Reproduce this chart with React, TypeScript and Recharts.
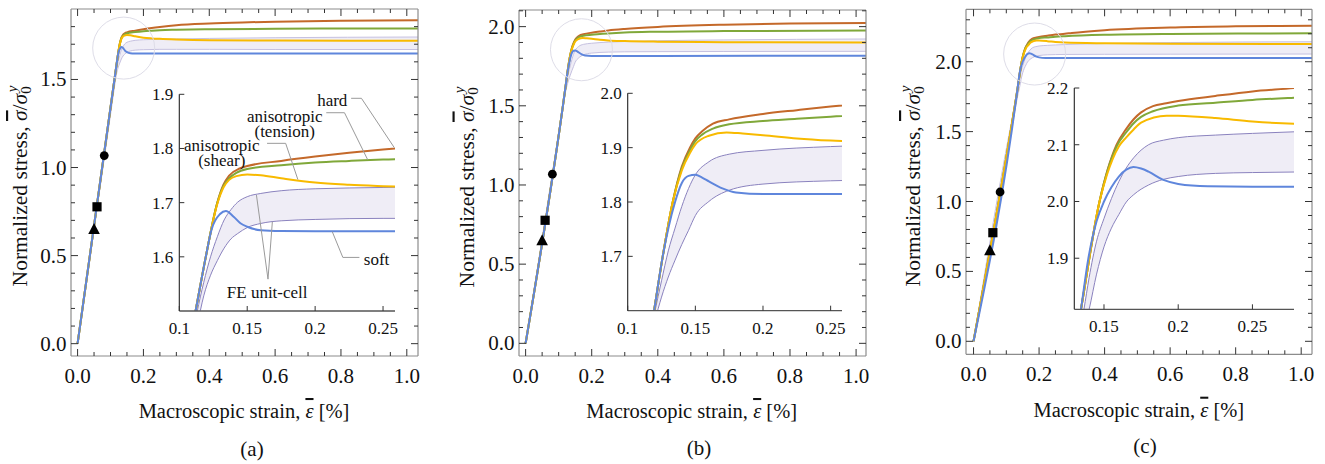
import React from "react";
import { Area, ComposedChart, Line, ReferenceDot, ReferenceLine, Scatter, XAxis, YAxis } from "recharts";

const SERIF = '"Liberation Serif", "Times New Roman", serif';
const COL = {
  hard: "#c4692a",
  green: "#80a83a",
  yellow: "#f8ba00",
  blue: "#5f86dc",
  edge: "#8a82be",
  edgeMain: "#c6c1e0",
  fill: "#efedf6",
  knee: "#dedde8",
  frame: "#8c8c8c",
  tick: "#333333",
  leader: "#9a9a9a",
};

type Pt = [number, number];

// ---- panel (a)
const hardA: Pt[] = [[0, 0], [0.112, 1.5], [0.1195, 1.6], [0.128, 1.7], [0.1325, 1.733], [0.1367, 1.75], [0.1445, 1.763], [0.15, 1.7675], [0.175, 1.777], [0.2, 1.785], [0.225, 1.792], [0.25, 1.798], [0.3, 1.808], [0.4, 1.818], [0.5, 1.824], [0.6, 1.828], [0.8, 1.833], [1.04, 1.836]];
const greenA: Pt[] = [[0, 0], [0.112, 1.5], [0.1195, 1.6], [0.128, 1.7], [0.1325, 1.731], [0.1367, 1.745], [0.142, 1.755], [0.15, 1.762], [0.175, 1.769], [0.2, 1.774], [0.225, 1.777], [0.25, 1.7795], [0.3, 1.782], [0.4, 1.785], [0.6, 1.788], [0.8, 1.789], [1.04, 1.79]];
const yellowA: Pt[] = [[0, 0], [0.112, 1.5], [0.1195, 1.6], [0.128, 1.698], [0.1325, 1.728], [0.1367, 1.742], [0.142, 1.749], [0.15, 1.752], [0.16, 1.7505], [0.175, 1.745], [0.2, 1.737], [0.225, 1.733], [0.25, 1.7305], [0.3, 1.727], [0.4, 1.723], [0.6, 1.721], [1.04, 1.72]];
const blueA: Pt[] = [[0, 0], [0.112, 1.5], [0.1195, 1.6], [0.1237, 1.65], [0.13, 1.679], [0.1343, 1.6845], [0.14, 1.674], [0.145, 1.662], [0.15, 1.6555], [0.16, 1.649], [0.175, 1.6475], [0.2, 1.647], [0.4, 1.647], [1.04, 1.647]];
const bandXA = [0, 0.105, 0.113, 0.118, 0.123, 0.128, 0.133, 0.138, 0.143, 0.15, 0.16, 0.175, 0.2, 0.25, 0.3, 0.4, 0.6, 1.04];
const bandHiA = [0, 1.39, 1.497, 1.553, 1.6, 1.637, 1.668, 1.687, 1.701, 1.711, 1.717, 1.722, 1.7256, 1.728, 1.73, 1.733, 1.737, 1.741];
const bandLoA = [0, 1.365, 1.47, 1.528, 1.566, 1.593, 1.616, 1.633, 1.643, 1.654, 1.6616, 1.6665, 1.669, 1.671, 1.671, 1.671, 1.67, 1.67];
const kneeA: Pt = [0.14, 1.678];

// ---- panel (b)
const hardB: Pt[] = [[0, 0], [0.1195, 1.6], [0.1259, 1.7], [0.1333, 1.8], [0.14, 1.865], [0.146, 1.9], [0.15, 1.917], [0.155, 1.93], [0.163, 1.944], [0.175, 1.952], [0.2, 1.962], [0.225, 1.969], [0.25, 1.9755], [0.3, 1.985], [0.4, 1.998], [0.6, 2.012], [0.8, 2.019], [1.04, 2.023]];
const greenB: Pt[] = [[0, 0], [0.1195, 1.6], [0.1259, 1.7], [0.1333, 1.8], [0.14, 1.862], [0.146, 1.895], [0.15, 1.912], [0.155, 1.924], [0.163, 1.935], [0.175, 1.943], [0.2, 1.949], [0.225, 1.953], [0.25, 1.957], [0.3, 1.963], [0.4, 1.968], [0.6, 1.972], [1.04, 1.975]];
const yellowB: Pt[] = [[0, 0], [0.1195, 1.6], [0.1259, 1.7], [0.1333, 1.8], [0.14, 1.858], [0.146, 1.89], [0.15, 1.906], [0.16, 1.922], [0.1731, 1.928], [0.185, 1.926], [0.2, 1.923], [0.225, 1.917], [0.25, 1.913], [0.3, 1.909], [0.4, 1.905], [0.6, 1.902], [1.04, 1.9]];
const blueB: Pt[] = [[0, 0], [0.1195, 1.6], [0.1259, 1.7], [0.135, 1.8], [0.14, 1.835], [0.145, 1.848], [0.15, 1.85], [0.155, 1.845], [0.16, 1.838], [0.17, 1.825], [0.18, 1.8175], [0.2, 1.8145], [0.4, 1.815], [1.04, 1.816]];
const bandXB = [0, 0.1, 0.12, 0.125, 0.13, 0.135, 0.14, 0.145, 0.15, 0.16, 0.175, 0.2, 0.25, 0.3, 0.4, 0.6, 1.04];
const bandHiB = [0, 1.33, 1.597, 1.655, 1.71, 1.752, 1.792, 1.825, 1.85, 1.874, 1.888, 1.895, 1.902, 1.906, 1.911, 1.916, 1.922];
const bandLoB = [0, 1.31, 1.58, 1.625, 1.662, 1.693, 1.722, 1.748, 1.775, 1.801, 1.8216, 1.833, 1.839, 1.841, 1.842, 1.843, 1.844];
const kneeB: Pt = [0.169, 1.854];

// ---- panel (c)
const hardC: Pt[] = [[0, 0], [0.1345, 1.81], [0.147, 2.0], [0.1585, 2.1], [0.165, 2.128], [0.17, 2.145], [0.175, 2.157], [0.183, 2.168], [0.192, 2.173], [0.2, 2.177], [0.225, 2.186], [0.25, 2.194], [0.2788, 2.2], [0.3, 2.206], [0.4, 2.226], [0.6, 2.245], [0.8, 2.253], [1.04, 2.257]];
const greenC: Pt[] = [[0, 0], [0.1345, 1.81], [0.147, 2.0], [0.1585, 2.097], [0.165, 2.122], [0.17, 2.138], [0.175, 2.149], [0.183, 2.159], [0.2, 2.169], [0.225, 2.174], [0.25, 2.179], [0.2788, 2.183], [0.4, 2.193], [0.6, 2.199], [1.04, 2.203]];
const yellowC: Pt[] = [[0, 0], [0.1345, 1.81], [0.147, 2.0], [0.152, 2.047], [0.16, 2.097], [0.165, 2.113], [0.17, 2.127], [0.175, 2.139], [0.1922, 2.1513], [0.2, 2.151], [0.225, 2.147], [0.25, 2.141], [0.2788, 2.137], [0.4, 2.132], [0.6, 2.129], [1.04, 2.127]];
const blueC: Pt[] = [[0, 0], [0.1345, 1.81], [0.1395, 1.9], [0.145, 1.965], [0.15, 2.0], [0.155, 2.025], [0.16, 2.044], [0.165, 2.056], [0.1698, 2.0607], [0.175, 2.058], [0.18, 2.0526], [0.19, 2.038], [0.2, 2.031], [0.22, 2.0268], [0.25, 2.026], [1.04, 2.026]];
const bandXC = [0, 0.12, 0.1365, 0.14, 0.145, 0.15, 0.155, 0.16, 0.165, 0.17, 0.18, 0.19, 0.2, 0.225, 0.25, 0.28, 0.4, 0.6, 1.04];
const bandHiC = [0, 1.62, 1.81, 1.866, 1.93, 1.97, 2.005, 2.035, 2.059, 2.077, 2.1, 2.108, 2.1125, 2.117, 2.12, 2.123, 2.13, 2.137, 2.143];
const bandLoC = [0, 1.56, 1.775, 1.81, 1.872, 1.92, 1.953, 1.977, 1.999, 2.012, 2.029, 2.039, 2.044, 2.0495, 2.051, 2.052, 2.053, 2.054, 2.055];
const kneeC: Pt = [0.1865, 2.055];

// markers on the elastic branch (same in all panels)
const circleMk: Pt[] = [[0.081, 1.068]];
const squareMk: Pt[] = [[0.059, 0.777]];
const triangleMk: Pt[] = [[0.05, 0.648]];

// ticks
const mainXTicks = [0, 0.05, 0.1, 0.15, 0.2, 0.25, 0.3, 0.35, 0.4, 0.45, 0.5, 0.55, 0.6, 0.65, 0.7, 0.75, 0.8, 0.85, 0.9, 0.95, 1.0];
const yTicksA = [0, 0.1, 0.2, 0.3, 0.4, 0.5, 0.6, 0.7, 0.8, 0.9, 1.0, 1.1, 1.2, 1.3, 1.4, 1.5, 1.6, 1.7, 1.8];
const yTicksB = [0, 0.1, 0.2, 0.3, 0.4, 0.5, 0.6, 0.7, 0.8, 0.9, 1.0, 1.1, 1.2, 1.3, 1.4, 1.5, 1.6, 1.7, 1.8, 1.9, 2.0, 2.1];
const yTicksC = [0, 0.1, 0.2, 0.3, 0.4, 0.5, 0.6, 0.7, 0.8, 0.9, 1.0, 1.1, 1.2, 1.3, 1.4, 1.5, 1.6, 1.7, 1.8, 1.9, 2.0, 2.1, 2.2, 2.3];
const insetXTicksAB = [0.1, 0.15, 0.2, 0.25];
const insetXTicksC = [0.15, 0.2, 0.25];
const insetYTicksA = [1.6, 1.7, 1.8, 1.9];
const insetYTicksB = [1.7, 1.8, 1.9, 2.0];
const insetYTicksC = [1.9, 2.0, 2.1, 2.2];

// annotations of inset (a)
const annoTextA = [
  { x: 0.2126, y: 1.8895, lines: ["hard"] },
  { x: 0.1776, y: 1.847, lines: ["anisotropic", "(tension)"] },
  { x: 0.1313, y: 1.7934, lines: ["anisotropic", "(shear)"] },
  { x: 0.2452, y: 1.5952, lines: ["soft"] },
  { x: 0.1647, y: 1.5348, lines: ["FE unit-cell"] },
];
const leadersA: Pt[][] = [
  [[0.2265, 1.8926], [0.2341, 1.8926], [0.2583, 1.8015]],
  [[0.2082, 1.866], [0.2216, 1.866], [0.2387, 1.7792]],
  [[0.1646, 1.8095], [0.1783, 1.8095], [0.1873, 1.7426]],
  [[0.2326, 1.5989], [0.2204, 1.5989], [0.2126, 1.6465]],
  [[0.1568, 1.714], [0.1653, 1.5588], [0.1685, 1.6646]],
];

const toXY = (a: Pt[]) => a.map(([x, y]) => ({ x, y }));
const bandRows = (xs: number[], lo: number[], hi: number[]) => xs.map((x, i) => ({ x, lo: lo[i], hi: hi[i] }));

function FrameTick(props: any) {
  const { x, y, payload, side, step, len = 7, minor = 4, show = false, fmt, fs = 20, gap = 5, base = 26 } = props;
  const v = payload.value;
  const r = v / step;
  const major = Math.abs(r - Math.round(r)) < 1e-6;
  const L = major ? len : minor;
  const d: Record<string, number[]> = { bottom: [0, -L], top: [0, L], left: [L, 0], right: [-L, 0] };
  const [dx, dy] = d[side];
  return (
    <g>
      <line x1={x} y1={y} x2={x + dx} y2={y + dy} stroke={COL.tick} strokeWidth={1} />
      {show && major && side === "bottom" && (
        <text x={x} y={y + base} textAnchor="middle" fontSize={fs} fontFamily={SERIF} fill="#111">
          {fmt(v)}
        </text>
      )}
      {show && major && side === "left" && (
        <text x={x - gap} y={y + base} textAnchor="end" fontSize={fs} fontFamily={SERIF} fill="#111">
          {fmt(v)}
        </text>
      )}
    </g>
  );
}

const f1 = (v: number) => v.toFixed(1);
const fs = (v: number) => String(v);

function Marker(props: any) {
  const { cx, cy, kind } = props;
  if (kind === "circle") return <circle cx={cx} cy={cy} r={4.4} fill="#000" />;
  if (kind === "square") return <rect x={cx - 4.6} y={cy - 4.6} width={9.2} height={9.2} fill="#000" />;
  return <polygon points={`${cx},${cy - 6.5} ${cx - 5.8},${cy + 4.5} ${cx + 5.8},${cy + 4.5}`} fill="#000" />;
}

function NoteText({ cx, cy, lines }: any) {
  const lh = 15;
  const first = cy + 6 - ((lines.length - 1) * lh) / 2;
  return (
    <text x={cx} y={first} textAnchor="middle" fontSize={17} fontFamily={SERIF} fill="#111">
      {lines.map((t: string, i: number) => (
        <tspan key={i} x={cx} dy={i === 0 ? 0 : lh}>
          {t}
        </tspan>
      ))}
    </text>
  );
}

function curves(p: any, inset: boolean) {
  const edge = inset ? COL.edge : COL.edgeMain;
  const common = { type: "monotone" as const, dot: false, activeDot: false, isAnimationActive: false };
  return [
    <Area key="band" data={p.band} dataKey={(d: any) => [d.lo, d.hi]} type="monotone" stroke="none" fill={COL.fill} fillOpacity={1} isAnimationActive={false} activeDot={false} />,
    <Line key="hi" data={p.band} dataKey="hi" stroke={edge} strokeWidth={1} {...common} />,
    <Line key="lo" data={p.band} dataKey="lo" stroke={edge} strokeWidth={1} {...common} />,
    <Line key="hard" data={toXY(p.hard)} dataKey="y" stroke={COL.hard} strokeWidth={2} {...common} />,
    <Line key="green" data={toXY(p.green)} dataKey="y" stroke={COL.green} strokeWidth={2} {...common} />,
    <Line key="yellow" data={toXY(p.yellow)} dataKey="y" stroke={COL.yellow} strokeWidth={2} {...common} />,
    <Line key="blue" data={toXY(p.blue)} dataKey="y" stroke={COL.blue} strokeWidth={2} {...common} />,
  ];
}

// axes get a 1px box (a zero-size axis is not drawn), margins are reduced by 1 to compensate
function MainChart({ p }: { p: any }) {
  const m = { top: p.margin.top - 1, right: p.margin.right - 1, bottom: p.margin.bottom - 1, left: p.margin.left - 1 };
  const frame = { stroke: COL.frame, strokeWidth: 1.2 };
  return (
    <div style={{ position: "absolute", left: p.left, top: 0 }}>
      <ComposedChart width={p.width} height={464} margin={m}>
        <XAxis xAxisId={0} dataKey="x" type="number" domain={p.xDomain} allowDataOverflow ticks={mainXTicks} interval={0} height={1} tickSize={0} tickMargin={0} axisLine={frame} tickLine={false} tick={<FrameTick side="bottom" step={0.2} show fmt={f1} fs={21} base={27} />} />
        <XAxis xAxisId="top" dataKey="x" type="number" orientation="top" domain={p.xDomain} allowDataOverflow ticks={mainXTicks} interval={0} height={1} tickSize={0} tickMargin={0} axisLine={frame} tickLine={false} tick={<FrameTick side="top" step={0.2} />} />
        <YAxis yAxisId={0} type="number" domain={p.yDomain} allowDataOverflow ticks={p.yTicks} interval={0} width={1} tickSize={0} tickMargin={0} axisLine={frame} tickLine={false} tick={<FrameTick side="left" step={0.5} show fmt={f1} fs={21} gap={4.5} base={7} />} />
        <YAxis yAxisId="right" orientation="right" type="number" domain={p.yDomain} allowDataOverflow ticks={p.yTicks} interval={0} width={1} tickSize={0} tickMargin={0} axisLine={frame} tickLine={false} tick={<FrameTick side="right" step={0.5} />} />
        {curves(p, false)}
        <Scatter data={toXY(circleMk)} dataKey="y" isAnimationActive={false} shape={(s: any) => <Marker {...s} kind="circle" />} />
        <Scatter data={toXY(squareMk)} dataKey="y" isAnimationActive={false} shape={(s: any) => <Marker {...s} kind="square" />} />
        <Scatter data={toXY(triangleMk)} dataKey="y" isAnimationActive={false} shape={(s: any) => <Marker {...s} kind="triangle" />} />
        <ReferenceDot x={p.knee[0]} y={p.knee[1]} r={31} fill="none" stroke={COL.knee} strokeWidth={1} />
      </ComposedChart>
    </div>
  );
}

function InsetChart({ p }: { p: any }) {
  const q = p.inset;
  const m = { ...q.margin, bottom: q.margin.bottom - 1, left: q.margin.left - 1 };
  return (
    <div style={{ position: "absolute", left: q.left, top: q.top }}>
      <ComposedChart width={q.width} height={q.height} margin={m}>
        <XAxis dataKey="x" type="number" domain={q.xDomain} allowDataOverflow ticks={q.xTicks} interval={0} height={1} tickSize={0} tickMargin={0} axisLine={{ stroke: "#555", strokeWidth: 1.3 }} tickLine={false} tick={<FrameTick side="bottom" step={0.05} len={5} show fmt={fs} fs={17} base={23} />} />
        <YAxis type="number" domain={q.yDomain} allowDataOverflow ticks={q.yTicks} interval={0} width={1} tickSize={0} tickMargin={0} axisLine={{ stroke: "#222", strokeWidth: 1.1 }} tickLine={false} tick={<FrameTick side="left" step={0.1} len={5} show fmt={f1} fs={17} gap={6} base={6} />} />
        {curves(p, true)}
        {(q.leaders || []).flatMap((path: Pt[], i: number) =>
          path.slice(1).map((pt, j) => (
            <ReferenceLine key={`l${i}-${j}`} segment={[{ x: path[j][0], y: path[j][1] }, { x: pt[0], y: pt[1] }]} stroke={COL.leader} strokeWidth={1} />
          ))
        )}
        {(q.texts || []).map((a: any, i: number) => (
          <ReferenceDot key={`t${i}`} x={a.x} y={a.y} r={1} shape={(s: any) => <NoteText cx={s.cx} cy={s.cy} lines={a.lines} />} />
        ))}
      </ComposedChart>
    </div>
  );
}

const panels = [
  {
    left: 0, width: 440, margin: { top: 9, right: 22, bottom: 108, left: 71 },
    xDomain: [-0.02, 1.034], yDomain: [-0.07, 1.9], yTicks: yTicksA,
    hard: hardA, green: greenA, yellow: yellowA, blue: blueA, band: bandRows(bandXA, bandLoA, bandHiA), knee: kneeA,
    inset: { left: 130, top: 60, width: 290, height: 290, margin: { top: 34.3, right: 25, bottom: 39, left: 49.3 }, xDomain: [0.1, 0.2588], yDomain: [1.5, 1.9], xTicks: insetXTicksAB, yTicks: insetYTicksA, leaders: leadersA, texts: annoTextA },
    xl: [244, 418], yl: [27, 186], pl: [252, 456], tag: "(a)",
  },
  {
    left: 440, width: 440, margin: { top: 10, right: 14, bottom: 108, left: 79 },
    xDomain: [-0.02, 1.03], yDomain: [-0.08, 2.105], yTicks: yTicksB,
    hard: hardB, green: greenB, yellow: yellowB, blue: blueB, band: bandRows(bandXB, bandLoB, bandHiB), knee: kneeB,
    inset: { left: 570, top: 60, width: 290, height: 290, margin: { top: 33.3, right: 18, bottom: 39.3, left: 57.7 }, xDomain: [0.1, 0.2584], yDomain: [1.6, 2.0], xTicks: insetXTicksAB, yTicks: insetYTicksB },
    xl: [691.7, 418], yl: [473.5, 187], pl: [699, 455], tag: "(b)",
  },
  {
    left: 880, width: 445, margin: { top: 9.3, right: 13, bottom: 109.7, left: 86 },
    xDomain: [-0.023, 1.033], yDomain: [-0.093, 2.375], yTicks: yTicksC,
    hard: hardC, green: greenC, yellow: yellowC, blue: blueC, band: bandRows(bandXC, bandLoC, bandHiC), knee: kneeC,
    inset: { left: 1020, top: 55, width: 290, height: 290, margin: { top: 33, right: 16, bottom: 35.7, left: 54.3 }, xDomain: [0.13, 0.278], yDomain: [1.81, 2.2], xTicks: insetXTicksC, yTicks: insetYTicksC },
    xl: [1138.8, 416.7], yl: [920, 186], pl: [1145, 453], tag: "(c)",
  },
];

function Labels() {
  return (
    <svg width={1325} height={464} style={{ position: "absolute", left: 0, top: 0, pointerEvents: "none" }}>
      {panels.map((p, i) => (
        <g key={i} fontFamily={SERIF} fill="#111">
          <text x={p.xl[0]} y={p.xl[1]} textAnchor="middle" fontSize={20.5}>
            Macroscopic strain, <tspan fontStyle="italic" textDecoration="overline">{"\u03b5"}</tspan> [%]
          </text>
          <text transform={`translate(${p.yl[0]},${p.yl[1]}) rotate(-90)`} textAnchor="middle" fontSize={21.5}>
            Normalized stress, <tspan fontStyle="italic" textDecoration="overline">{"\u03c3"}</tspan>/<tspan fontStyle="italic">{"\u03c3"}</tspan>
            <tspan fontSize={15} dy={4}>0</tspan>
            <tspan fontSize={15} fontStyle="italic" dx={-6} dy={-14}>y</tspan>
          </text>
          <text x={p.pl[0]} y={p.pl[1]} textAnchor="middle" fontSize={21}>
            {p.tag}
          </text>
        </g>
      ))}
    </svg>
  );
}

export default function App() {
  return (
    <div style={{ position: "absolute", left: 0, top: 0, width: 1325, height: 464, background: "#fff" }}>
      {panels.map((p, i) => (
        <MainChart key={`m${i}`} p={p} />
      ))}
      {panels.map((p, i) => (
        <InsetChart key={`i${i}`} p={p} />
      ))}
      <Labels />
    </div>
  );
}
